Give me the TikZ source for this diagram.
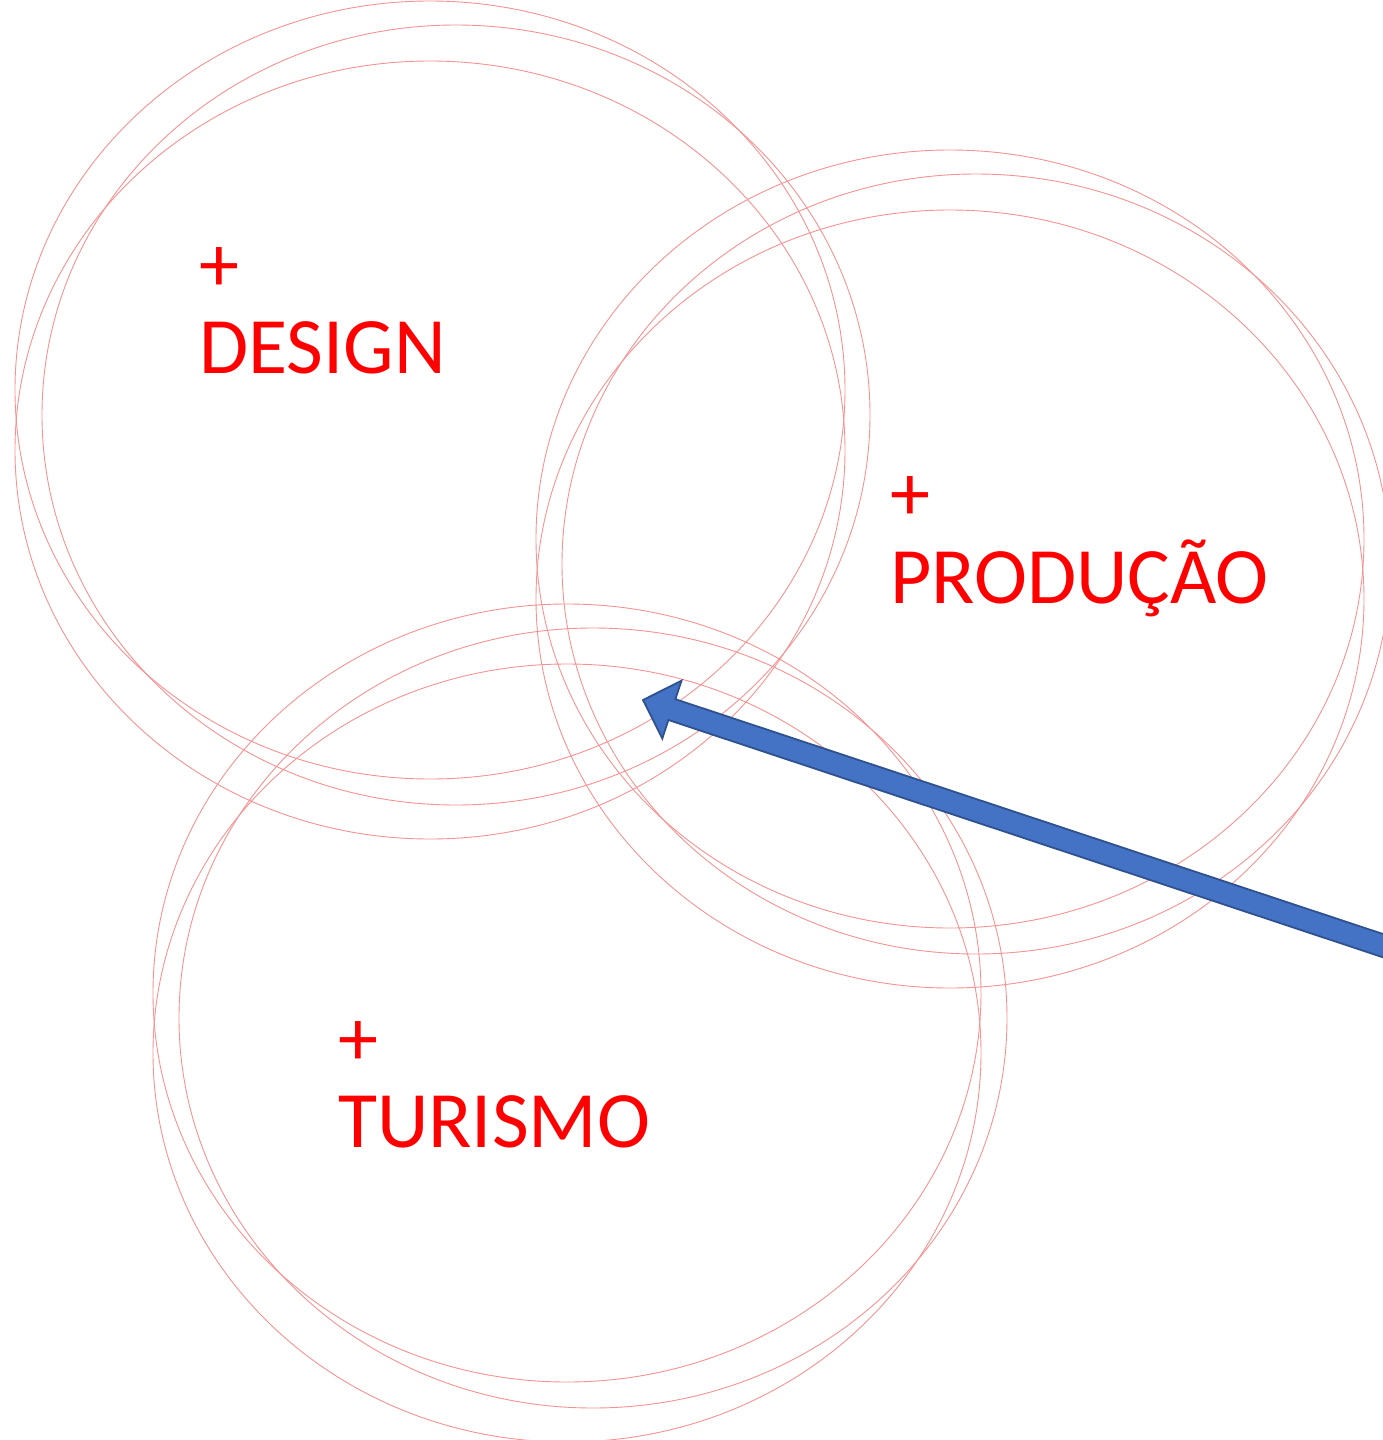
\documentclass[tikz,border=0pt]{standalone}
\usepackage{fontspec}
\setmainfont{Carlito}
\definecolor{ringred}{RGB}{246,146,146}
\definecolor{labred}{RGB}{255,0,0}
\definecolor{arrowfill}{RGB}{68,114,196}
\definecolor{arrowline}{RGB}{47,82,143}
\begin{document}
\begin{tikzpicture}[x=1pt,y=-1pt,
  ring/.style={draw=ringred,line width=0.9pt},
  lab/.style={text=labred,inner sep=0pt,anchor=base west,font=\fontsize{80}{90}\selectfont}]
\useasboundingbox (0,0) rectangle (1383,1440);
\clip (0,0) rectangle (1383,1440);
% DESIGN rings
\draw[ring] (430,390) ellipse [x radius=415pt, y radius=389pt];
\draw[ring] (456,415) ellipse [x radius=414pt, y radius=390pt];
\draw[ring] (430,450) ellipse [x radius=415pt, y radius=389pt];
% PRODUCAO rings
\draw[ring] (950,539) ellipse [x radius=414pt, y radius=389pt];
\draw[ring] (976,564) ellipse [x radius=414pt, y radius=390pt];
\draw[ring] (950,599) ellipse [x radius=414pt, y radius=389pt];
% TURISMO rings
\draw[ring] (567,993) ellipse [x radius=414pt, y radius=389pt];
\draw[ring] (593,1018) ellipse [x radius=414pt, y radius=390pt];
\draw[ring] (567,1053) ellipse [x radius=414pt, y radius=389pt];
% labels
\node[lab] (dplus) at (199,291) {+};
\node[lab] (dtext) at (199,373) {DESIGN};
\node[lab] (pplus) at (890,520) {+};
\node[lab] (ptext) at (890,603) {PRODUÇÃO};
\node[lab] (tplus) at (338,1065) {+};
\node[lab] (ttext) at (338,1147) {TURISMO};
% arrow
\coordinate (tip) at (643,700);
\coordinate (barbA) at (681.5,680.7);
\coordinate (neckA) at (675.4,699.2);
\coordinate (tailA) at (1500.5,973);
\coordinate (tailB) at (1493.5,994);
\coordinate (neckB) at (668.4,720.0);
\coordinate (barbB) at (662.3,738.5);
\draw[fill=arrowfill,draw=arrowline,line width=1.8pt,line join=miter]
  (tip) -- (barbA) -- (neckA) -- (tailA) -- (tailB) -- (neckB) -- (barbB) -- cycle;
\end{tikzpicture}
\end{document}
